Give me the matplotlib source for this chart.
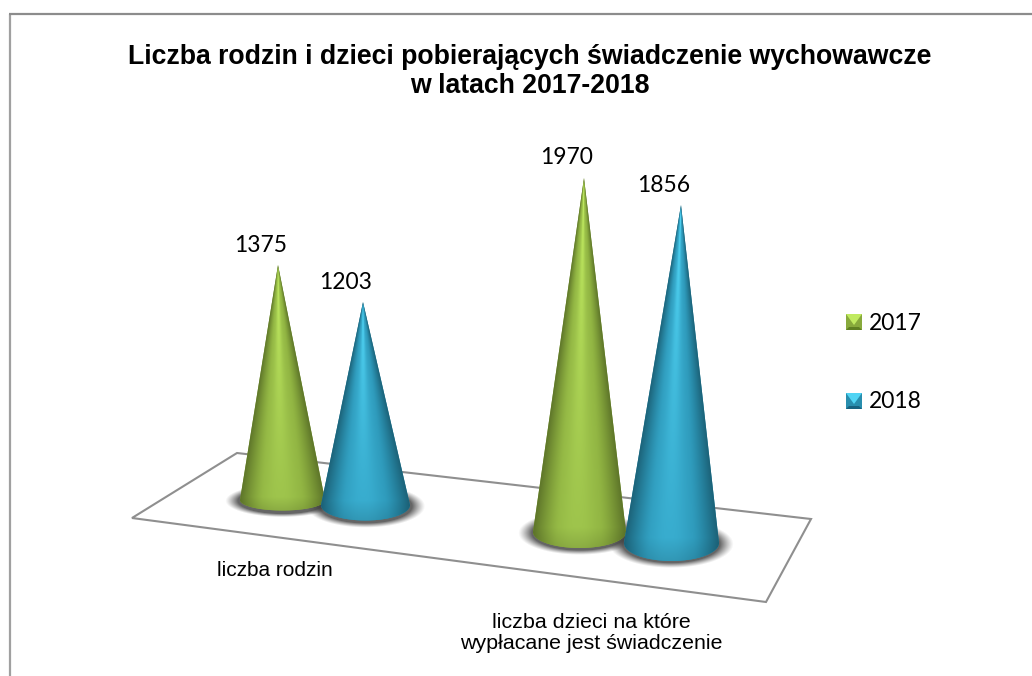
import numpy as np
import matplotlib
matplotlib.use("Agg")
import matplotlib.pyplot as plt
from matplotlib.path import Path
from matplotlib.patches import PathPatch, Polygon, Rectangle

# ---- data ----
title = "Liczba rodzin i dzieci pobierających świadczenie wychowawcze\nw latach 2017-2018"
categories = ["liczba rodzin", "liczba dzieci na które\nwypłacane jest świadczenie"]
series_names = ["2017", "2018"]
values_2017 = [1375, 1970]
values_2018 = [1203, 1856]

W, H = 1032, 676
fig = plt.figure(figsize=(W / 100, H / 100), dpi=100, facecolor="white")
ax = fig.add_axes([0, 0, 1, 1])
ax.set_xlim(0, W)
ax.set_ylim(H, 0)
ax.axis("off")

ARIAL = ["Liberation Sans"]
LAB = ["Lato"]

# frame: top and left only, the crop cuts off the rest
ax.plot([10, 10], [H + 2, 14], color="#a0a0a0", lw=1.6, solid_capstyle="butt", zorder=1)
ax.plot([9, W + 2], [14, 14], color="#8c8c8c", lw=1.6, solid_capstyle="butt", zorder=1)
# floor
floor = Polygon([(132, 518), (237, 453), (811, 519), (766, 602)], closed=True, fc="white", ec="#8f8f8f", lw=1.5, zorder=2)
ax.add_patch(floor)

# perspective geometry per cone: base centre, half width, ellipse b, apex x, px per unit
geom = {
    (0, 0): (282.5, 500, 42.5, 10.5, 278, 0.1709),
    (1, 0): (365.5, 505, 44.5, 15.5, 363, 0.1687),
    (0, 1): (579.5, 532, 46.5, 16, 584, 0.1797),
    (1, 1): (671.5, 543, 47.5, 18, 681, 0.1821),
}
palettes = {
    0: dict(edge=np.array([0x5f, 0x80, 0x22]) / 255, mid=np.array([0x88, 0xaa, 0x3c]) / 255,
            hi=np.array([0x9e, 0xc4, 0x4c]) / 255, top=np.array([0xc0, 0xea, 0x60]) / 255),
    1: dict(edge=np.array([0x17, 0x62, 0x80]) / 255, mid=np.array([0x28, 0x8e, 0xae]) / 255,
            hi=np.array([0x38, 0xac, 0xce]) / 255, top=np.array([0x50, 0xd4, 0xf4]) / 255),
}


def shadow(cx, cy, a, b):
    ext = 1.5
    xs = np.arange(cx - a * ext, cx + a * ext)
    ys = np.arange(cy - b * ext - 6, cy + b * ext + 6)
    X, Y = np.meshgrid(xs + 0.5, ys + 0.5)
    r = np.sqrt(((X - cx) / (a + 15)) ** 2 + ((Y - cy - 1) / (b + 6)) ** 2)
    alpha = np.clip((1.0 - r) / 0.22, 0, 1) ** 1.2 * 0.8
    img = np.zeros(X.shape + (4,))
    img[..., :3] = 0.25
    img[..., 3] = alpha
    ax.imshow(img, extent=(xs[0], xs[-1] + 1, ys[-1] + 1, ys[0]), aspect="auto", zorder=3,
              interpolation="bilinear")


def cone(value, s, c, z):
    cx, cy, a, b, ax_x, k = geom[(s, c)]
    apex_y = cy - value * k
    th = np.linspace(np.pi, 0, 60)
    ex = cx + a * np.cos(th)
    ey = cy + b * np.sin(th)
    verts = [(ax_x, apex_y)] + list(zip(ex, ey)) + [(ax_x, apex_y)]
    codes = [Path.MOVETO] + [Path.LINETO] * (len(ex)) + [Path.CLOSEPOLY]
    pal = palettes[s]
    patch = PathPatch(Path(verts, codes), fc=pal["mid"], ec="none", zorder=z)
    ax.add_patch(patch)
    x0, x1 = int(cx - a - 2), int(cx + a + 3)
    y0, y1 = int(apex_y - 1), int(cy + b + 2)
    xs = np.arange(x0, x1) + 0.5
    ys = np.arange(y0, y1) + 0.5
    X, Y = np.meshgrid(xs, ys)
    t = np.clip((Y - apex_y) / (cy - apex_y), 0.001, 1.2)
    xc = ax_x + (cx - ax_x) * t
    u = (X - xc) / (a * t)
    body = np.exp(-((u + 0.05) / 0.6) ** 2)
    ridge = np.exp(-((u + 0.05) / 0.2) ** 2)
    shade = np.clip((np.abs(u) - 0.45) / 0.55, 0, 1) ** 1.5
    tt = np.clip(t, 0, 1)[..., None]
    base = pal["mid"] + (pal["hi"] - pal["mid"]) * body[..., None]
    hi = pal["top"] * (1 - tt) + pal["hi"] * tt
    col = base + (hi - base) * ridge[..., None] * (1 - 0.35 * tt)
    col = col * (1 - shade[..., None] * 0.32)
    v = np.clip((Y - cy + b * 0.3) / (b * 1.3), 0, 1)[..., None]
    col = col * (1 - 0.12 * v)
    im = ax.imshow(np.clip(col, 0, 1), extent=(x0, x1, y1, y0), aspect="auto", zorder=z + 0.1,
                   interpolation="bilinear")
    im.set_clip_path(patch)
    ax.text(ax_x - 17, apex_y - 13.5, f"{value}", ha="center", va="baseline", fontsize=16.5,
            family=LAB, color="black", zorder=9)


all_values = [values_2017, values_2018]
for s, vals in enumerate(all_values):
    for c, v in enumerate(vals):
        g = geom[(s, c)]
        shadow(g[0], g[1], g[2], g[3])
z_order = {(0, 0): 4, (1, 0): 5, (0, 1): 6, (1, 1): 7}
for s, vals in enumerate(all_values):
    for c, v in enumerate(vals):
        cone(v, s, c, z_order[(s, c)])

ax.set_xlim(0, W)
ax.set_ylim(H, 0)

# title
ax.text(529.5, 71.5, title, ha="center", va="center", fontsize=19.2, fontweight="bold", family=ARIAL,
        color="black", linespacing=1.18, zorder=9)

# category labels
ax.text(275, 570, categories[0], ha="center", va="center", fontsize=15, family=ARIAL, zorder=9)
ax.text(591, 633, categories[1], ha="center", va="center", fontsize=15.4, family=ARIAL,
        linespacing=1.12, zorder=9)

# legend
leg_y = [322, 401]
for s, name in enumerate(series_names):
    pal = palettes[s]
    x0, x1, yc = 846, 862, leg_y[s]
    y0, y1 = yc - 8, yc + 8
    xm = (x0 + x1) / 2
    ax.add_patch(Rectangle((x0, y0), x1 - x0, y1 - y0, fc=pal["mid"], ec="none", zorder=9))
    ax.add_patch(Polygon([(x0, y0), (x1, y0), (xm, yc + 3)], fc=pal["top"], ec="none", zorder=9.1))
    ax.add_patch(Polygon([(x0, y1), (x1, y1), (x1 - 3, y1 - 3), (x0 + 3, y1 - 3)], fc=pal["edge"], ec="none", zorder=9.1))
    ax.text(869, yc + 1.5 - s, name, ha="left", va="center", fontsize=16.5, family=LAB, zorder=9)

fig.savefig("out.png", dpi=100, facecolor="white")
